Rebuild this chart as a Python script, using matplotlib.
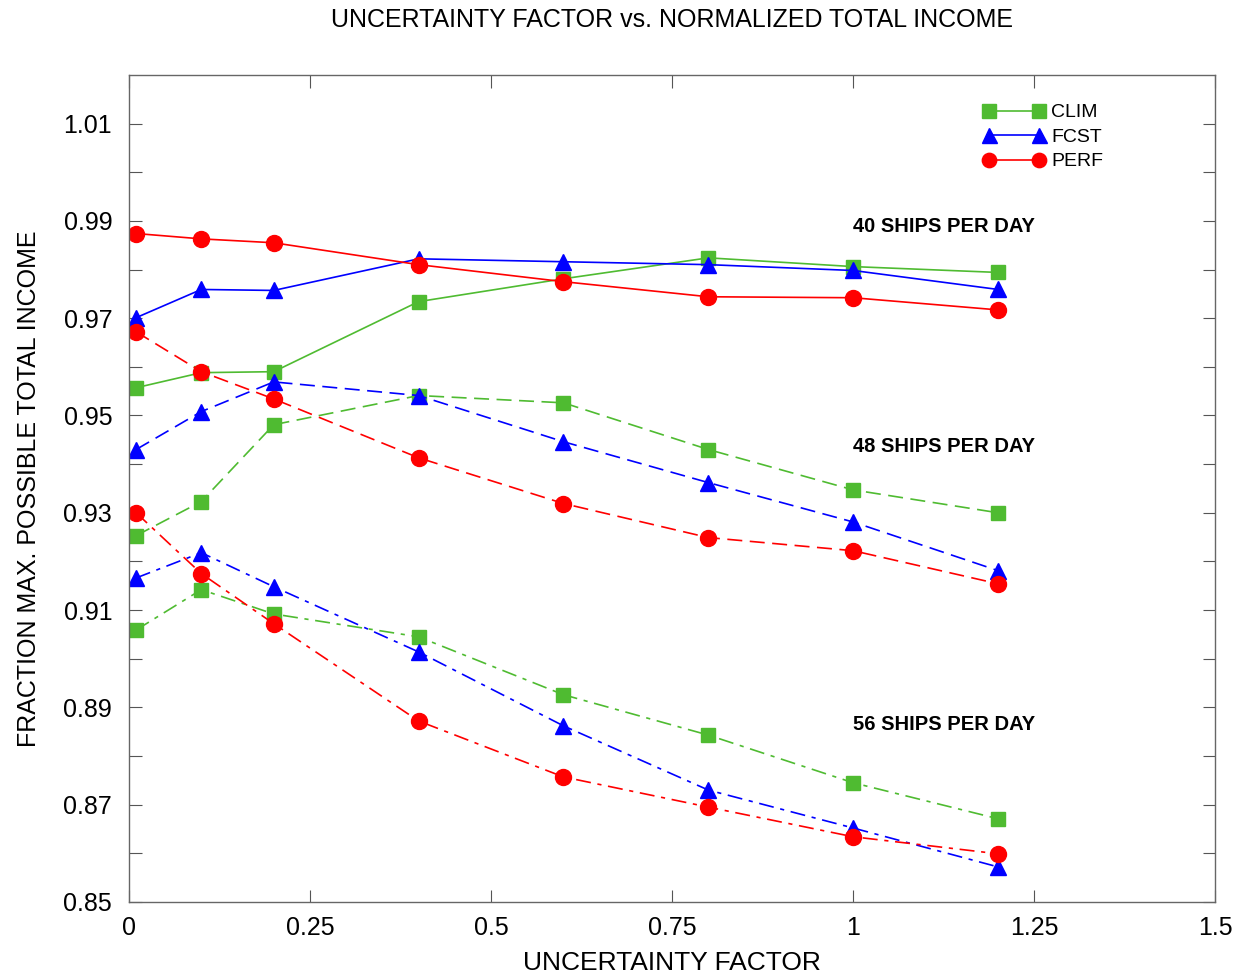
import matplotlib
matplotlib.use("Agg")
import matplotlib.pyplot as plt

plt.rcParams['font.family'] = ['Liberation Sans', 'DejaVu Sans']

# uncertainty factor values used in each run
factor = [0.01, 0.1, 0.2, 0.4, 0.6, 0.8, 1.0, 1.2]

# fraction of max possible total income, by traffic level and scheduling method
clim_40 = [0.9557, 0.9588, 0.9590, 0.9734, 0.9781, 0.9824, 0.9806, 0.9794]
fcst_40 = [0.9701, 0.9759, 0.9757, 0.9822, 0.9816, 0.9810, 0.9798, 0.9759]
perf_40 = [0.9874, 0.9863, 0.9855, 0.9810, 0.9775, 0.9744, 0.9742, 0.9717]

clim_48 = [0.9253, 0.9323, 0.9481, 0.9541, 0.9526, 0.9430, 0.9347, 0.9300]
fcst_48 = [0.9430, 0.9508, 0.9569, 0.9541, 0.9446, 0.9362, 0.9281, 0.9181]
perf_48 = [0.9672, 0.9590, 0.9534, 0.9413, 0.9319, 0.9249, 0.9222, 0.9154]

clim_56 = [0.9059, 0.9142, 0.9092, 0.9045, 0.8926, 0.8843, 0.8745, 0.8671]
fcst_56 = [0.9166, 0.9218, 0.9148, 0.9014, 0.8862, 0.8730, 0.8652, 0.8572]
perf_56 = [0.9300, 0.9175, 0.9072, 0.8872, 0.8757, 0.8695, 0.8634, 0.8599]

group_labels = ["40 SHIPS PER DAY", "48 SHIPS PER DAY", "56 SHIPS PER DAY"]
group_label_y = [0.9888, 0.9436, 0.8864]

x_ticks = [0, 0.25, 0.5, 0.75, 1.0, 1.25, 1.5]
x_tick_labels = ['0', '0.25', '0.5', '0.75', '1', '1.25', '1.5']

green = '#4fbb31'
blue = '#0000ff'
red = '#ff0000'

fig = plt.figure(figsize=(12.39, 9.73), dpi=100)
ax = fig.add_axes([0.104, 0.073, 0.877, 0.850])

dash = (0, (9, 4.5))
dashdot = (0, (9, 4, 2.5, 4))
groups = [
    ('-', clim_40, fcst_40, perf_40),
    (dash, clim_48, fcst_48, perf_48),
    (dashdot, clim_56, fcst_56, perf_56),
]
for i, (ls, clim, fcst, perf) in enumerate(groups):
    pre = '' if i == 0 else '_'
    ax.plot(factor, clim, linestyle=ls, color=green, lw=1.2, marker='s', ms=10.5,
            mec=green, label=pre + 'CLIM')
    ax.plot(factor, fcst, linestyle=ls, color=blue, lw=1.2, marker='^', ms=12,
            mec=blue, label=pre + 'FCST')
    ax.plot(factor, perf, linestyle=ls, color=red, lw=1.2, marker='o', ms=11.5,
            mec=red, label=pre + 'PERF')

for txt, yy in zip(group_labels, group_label_y):
    ax.text(1.0, yy, txt, fontsize=14.5, fontweight='bold', va='center', ha='left')

ax.set_xlim(0, 1.5)
ax.set_ylim(0.85, 1.02)
ax.set_xticks(x_ticks)
ax.set_xticklabels(x_tick_labels)
yt = [round(0.85 + 0.01 * k, 2) for k in range(17)]
ax.set_yticks(yt)
ax.set_yticklabels(['%.2f' % v if k % 2 == 0 else '' for k, v in enumerate(yt)])
ax.tick_params(direction='in', top=True, right=True, length=9, width=0.8,
               labelsize=18, color='#555555')
ax.tick_params(axis='y', pad=12)
ax.tick_params(axis='x', pad=10)
for s in ax.spines.values():
    s.set_color('#666666')
    s.set_linewidth(1.0)

ax.set_xlabel("UNCERTAINTY FACTOR", fontsize=19, labelpad=8)
ax.set_ylabel("FRACTION MAX. POSSIBLE TOTAL INCOME", fontsize=18, labelpad=16)
fig.text(0.542, 0.979, "UNCERTAINTY FACTOR vs. NORMALIZED TOTAL INCOME",
         fontsize=18, ha='center', va='center')

leg = ax.legend(loc='upper left', bbox_to_anchor=(0.786, 0.965), frameon=False,
                numpoints=2, handlelength=3.2, handletextpad=0.3, labelspacing=0.35,
                borderpad=0, borderaxespad=0, markerscale=0.9, prop={'size': 14})

fig.savefig("out.png", dpi=100, facecolor='white')
